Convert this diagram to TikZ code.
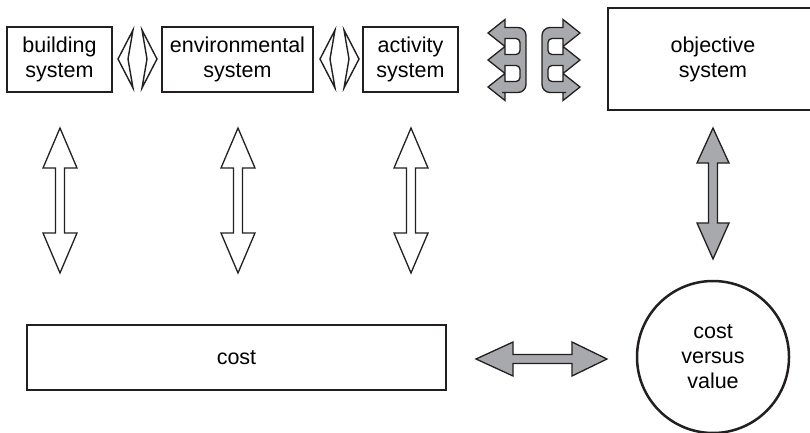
\documentclass[tikz,border=0pt]{standalone}
\usepackage{fontspec}
\setmainfont{Liberation Sans}
\definecolor{ink}{RGB}{35,31,32}
\definecolor{arrowgray}{RGB}{167,169,172}
\tikzset{
  sysbox/.style={draw=ink, line width=2.5pt, align=center, inner sep=0pt,
    font=\fontsize{21.5}{25}\selectfont},
  whitearrow/.style={draw=ink, line width=1.3pt, fill=white, line join=miter},
  grayarrow/.style={draw=ink, line width=1.3pt, fill=arrowgray, line join=miter},
  thinarrow/.style={draw=ink, line width=1.4pt, fill=white, line join=miter},
}
\newcommand\vdarrow[7]{% style, x, top tip, head base top, head base bottom, bottom tip, half width
  \draw[#1] (#2,#3) -- ({#2+#7},#4) -- ({#2+4.5},#4) -- ({#2+4.5},#5) -- ({#2+#7},#5)
    -- (#2,#6) -- ({#2-#7},#5) -- ({#2-4.5},#5) -- ({#2-4.5},#4) -- ({#2-#7},#4) -- cycle;}
\newcommand\thinpair[1]{%
  \draw[thinarrow] (#1,59) -- ({#1+15},30) -- ({#1+10},59) -- ({#1+15},88) -- cycle;
  \draw[thinarrow] ({#1+24},30) -- ({#1+39},59) -- ({#1+24},88) -- ({#1+29},59) -- cycle;}
\newcommand\curvegroup{%
  \draw[grayarrow] (488,33) -- (505,19.5) -- (505,27.5) -- (510,27.5) [rounded corners=8pt]
    -- (526,27.5) -- (526,92.5) -- (510,92.5) [sharp corners] -- (505,92.5) -- (505,100.5)
    -- (488,87) -- (505,73.5) -- (505,81.5) -- (510,81.5) [rounded corners=4pt]
    -- (520,81.5) -- (520,65.5) -- (510,65.5) [sharp corners] -- (505,65.5) -- (505,73.5)
    -- (488,60) -- (505,46.5) -- (505,54.5) -- (510,54.5) [rounded corners=4pt]
    -- (520,54.5) -- (520,38.5) -- (510,38.5) [sharp corners] -- (505,38.5) -- (505,46.5)
    -- cycle;}
\begin{document}
\begin{tikzpicture}[x=1pt, y=-1pt]
\useasboundingbox (0,0) rectangle (810,433);
\clip (0,0) rectangle (810,433);
% top boxes
\node[sysbox, minimum width=105pt, minimum height=65pt] (build) at (59.5,59.5) {building\\system};
\node[sysbox, minimum width=151pt, minimum height=65pt] (env) at (237.5,59.5) {environmental\\system};
\node[sysbox, minimum width=95pt, minimum height=65pt] (act) at (410.5,59.5) {activity\\system};
\node[sysbox, minimum width=210pt, minimum height=102pt] (obj) at (713,59) {objective\\system};
% bottom
\node[sysbox, minimum width=419pt, minimum height=65pt] (cost) at (236.5,357.5) {cost};
\node[sysbox, circle, minimum size=152pt] (cvv) at (713,357) {cost\\versus\\value};
% thin arrow pairs between top boxes
\thinpair{118}
\thinpair{320}
% curved gray arrows
\curvegroup
\begin{scope}[xshift=1068pt, xscale=-1]
\curvegroup
\end{scope}
% vertical white double arrows
\vdarrow{whitearrow}{60}{128}{168}{233}{273}{17}
\vdarrow{whitearrow}{238}{128}{168}{233}{273}{17}
\vdarrow{whitearrow}{411}{128}{168}{233}{273}{17}
% gray vertical arrow
\vdarrow{grayarrow}{713}{128}{163}{223}{259}{16}
% gray horizontal arrow
\draw[grayarrow] (476,359) -- (513,342) -- (513,354.5) -- (572,354.5) -- (572,342)
  -- (607,359) -- (572,376) -- (572,363.5) -- (513,363.5) -- (513,376) -- cycle;
\end{tikzpicture}
\end{document}
